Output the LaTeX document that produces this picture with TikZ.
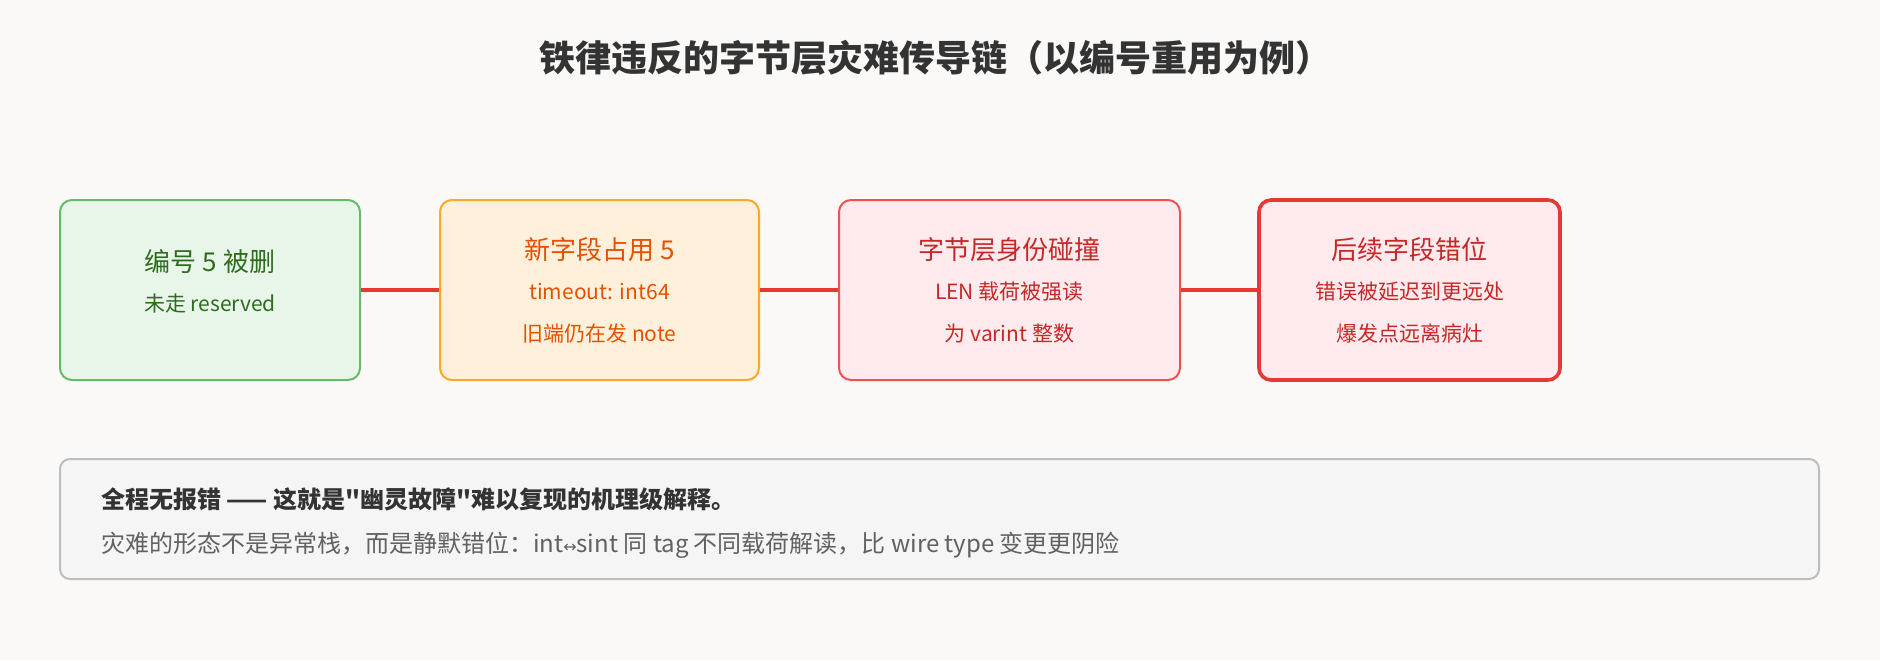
\documentclass[tikz,border=0pt]{standalone}
\usepackage{fontspec}
\setmainfont{Noto Sans CJK SC}
\usetikzlibrary{positioning}
\definecolor{bgc}{HTML}{FAF9F7}
\definecolor{okfill}{HTML}{E8F5E9}\definecolor{okline}{HTML}{66BB6A}\definecolor{oktext}{HTML}{2E6B1F}
\definecolor{warnfill}{HTML}{FFF0DC}\definecolor{warnline}{HTML}{FFA726}\definecolor{warntext}{HTML}{E65100}
\definecolor{badfill}{HTML}{FFEBEE}\definecolor{badline}{HTML}{EF5350}\definecolor{badtext}{HTML}{C62828}
\definecolor{linkc}{HTML}{E53935}
\definecolor{notefill}{HTML}{F5F5F5}\definecolor{noteline}{HTML}{BDBDBD}
\begin{document}
\begin{tikzpicture}[
    x=0.5pt, y=-0.5pt,
    stage/.style={rectangle, rounded corners=6pt, line width=1pt, minimum height=90pt, align=center, font=\fontsize{13}{24}\selectfont, inner sep=0pt},
    link/.style={draw=linkc, line width=2pt}
  ]
    \fill[bgc] (0,0) rectangle (1880,660);
    \node[font=\fontsize{18}{22}\selectfont\bfseries, text=black!80] (title) at (935,58) {铁律违反的字节层灾难传导链（以编号重用为例）};

    % Stages
    \node[stage, draw=okline, fill=okfill, text=oktext, minimum width=150pt] (deleted) at (210,290)
      {\\[-22pt]编号 5 被删\\[-4pt]{\fontsize{10.5}{22}\selectfont 未走 reserved}};
    \node[stage, draw=warnline, fill=warnfill, text=warntext, minimum width=159.5pt] (reused) at (599.5,290)
      {新字段占用 5\\[-4pt]{\fontsize{10.5}{22}\selectfont timeout: int64}\\[-3pt]{\fontsize{10.5}{22}\selectfont 旧端仍在发 note}};
    \node[stage, draw=badline, fill=badfill, text=badtext, minimum width=170.5pt] (clash) at (1009.5,290)
      {字节层身份碰撞\\[-4pt]{\fontsize{10.5}{22}\selectfont LEN 载荷被强读}\\[-3pt]{\fontsize{10.5}{22}\selectfont 为 varint 整数}};
    \node[stage, draw=linkc, line width=1.8pt, fill=badfill, text=badtext, minimum width=150.5pt] (shift) at (1409.5,290)
      {后续字段错位\\[-4pt]{\fontsize{10.5}{22}\selectfont 错误被延迟到更远处}\\[-3pt]{\fontsize{10.5}{22}\selectfont 爆发点远离病灶}};

    % Links
    \draw[link] (deleted) -- (reused);
    \draw[link] (reused) -- (clash);
    \draw[link] (clash) -- (shift);

    % Note
    \draw[noteline, fill=notefill, line width=1pt, rounded corners=5pt] (60,459) rectangle (1819,579);
    \node[anchor=west, font=\fontsize{12}{14}\selectfont\bfseries, text=black!80] (noteA) at (94,499)
      {全程无报错 —— 这就是\textquotedbl 幽灵故障\textquotedbl 难以复现的机理级解释。};
    \node[anchor=west, font=\fontsize{12}{14}\selectfont, text=black!62] (noteB) at (94,545)
      {灾难的形态不是异常栈，而是静默错位：int{\fontspec{DejaVu Sans}\fontsize{8}{9}\selectfont ↔}sint 同 tag 不同载荷解读，比 wire type 变更更阴险};
\end{tikzpicture}
\end{document}
